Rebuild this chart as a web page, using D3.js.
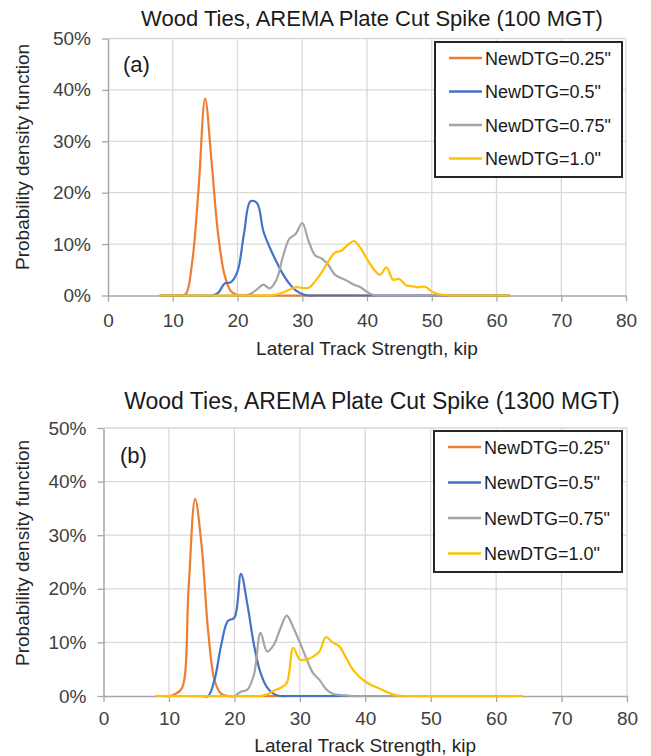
<!DOCTYPE html>
<html>
<head>
<meta charset="utf-8" />
<title>Lateral track strength PDF</title>
<script src="https://d3js.org/d3.v7.min.js"></script>
<style>
  body { margin: 0; background: #fff; }
  text { font-family: "Liberation Sans", Arial, sans-serif; }
</style>
</head>
<body>
<script>
// ---- data (values in %) ----
var xTicks = [0, 10, 20, 30, 40, 50, 60, 70, 80];
var yTicks = [0, 0.1, 0.2, 0.3, 0.4, 0.5];
var seriesNames = ['NewDTG=0.25"', 'NewDTG=0.5"', 'NewDTG=0.75"', 'NewDTG=1.0"'];
var seriesColors = ["#ED7D31", "#4472C4", "#A5A5A5", "#FFC000"];

// (a) 100 MGT
var kipA = [8, 9, 10, 11, 12, 13, 14, 15, 16, 17, 18, 19, 20, 21, 22, 23, 24, 25, 26, 27, 28, 29, 30,
            31, 32, 33, 34, 35, 36, 37, 38, 39, 40, 41, 42, 43, 44, 45, 46, 47, 48, 49, 50, 51, 52,
            53, 54, 55, 56, 57, 58, 59, 60, 61, 62];
var orangeA = [0, 0, 0, 0, 0.3, 6.5, 21, 38.3, 26, 12, 4, 0.8, 0.1, 0, 0, 0, 0, 0, 0, 0, 0, 0, 0,
               0, 0, 0, 0, 0, 0, 0, 0, 0, 0, 0, 0, 0, 0, 0, 0, 0, 0, 0, 0, 0, 0,
               0, 0, 0, 0, 0, 0, 0, 0, 0, 0];
var blueA = [0, 0, 0, 0, 0, 0, 0, 0, 0, 0.5, 2.3, 2.6, 4.7, 12, 18.3, 18, 12.5, 9.3, 6.6, 4.2, 2.3, 1.0, 0.3,
             0, 0, 0, 0, 0, 0, 0, 0, 0, 0, 0, 0, 0, 0, 0, 0, 0, 0, 0, 0, 0, 0,
             0, 0, 0, 0, 0, 0, 0, 0, 0, 0];
var grayA = [0, 0, 0, 0, 0, 0, 0, 0, 0, 0, 0, 0, 0, 0, 0.3, 1.2, 2.1, 1.4, 3, 7.5, 11, 12, 14.1,
             10.5, 7.8, 7.2, 6, 4.1, 3.4, 2.8, 2.1, 1.6, 0.7, 0.1, 0, 0, 0, 0, 0, 0, 0, 0, 0, 0, 0,
             0, 0, 0, 0, 0, 0, 0, 0, 0, 0];
var yellowA = [0, 0, 0, 0, 0, 0, 0, 0, 0, 0, 0, 0, 0, 0, 0, 0, 0, 0, 0.2, 0.6, 1.1, 1.6, 1.5,
               1.5, 2.8, 4.5, 6.6, 8.3, 8.7, 9.8, 10.6, 9.2, 7.1, 5.2, 4.0, 5.5, 3.1, 3.2, 2.0, 1.8, 1.6, 1.7, 0.8, 0.3, 0.1,
               0, 0, 0, 0, 0, 0, 0, 0, 0, 0];

// (b) 1300 MGT
var kipB = [8, 9, 10, 11, 12, 13, 14, 15, 16, 17, 18, 19, 20, 21, 22, 23, 24, 25, 26, 27, 28, 29, 30,
            31, 32, 33, 34, 35, 36, 37, 38, 39, 40, 41, 42, 43, 44, 45, 46, 47, 48, 49, 50, 51, 52,
            53, 54, 55, 56, 57, 58, 59, 60, 61, 62, 63, 64];
var orangeB = [0, 0, 0, 0.4, 1.5, 20, 36.8, 28, 12, 2.8, 0.4, 0, 0, 0, 0, 0, 0, 0, 0, 0, 0, 0, 0,
               0, 0, 0, 0, 0, 0, 0, 0, 0, 0, 0, 0, 0, 0, 0, 0, 0, 0, 0, 0, 0, 0,
               0, 0, 0, 0, 0, 0, 0, 0, 0, 0, 0, 0];
var blueB = [0, 0, 0, 0, 0, 0, 0, 0, 0, 3.2, 9.6, 14, 14.6, 22.8, 17, 9.5, 4.3, 1.6, 0.4, 0, 0, 0, 0,
             0, 0, 0, 0, 0, 0, 0, 0, 0, 0, 0, 0, 0, 0, 0, 0, 0, 0, 0, 0, 0, 0,
             0, 0, 0, 0, 0, 0, 0, 0, 0, 0, 0, 0];
var grayB = [0, 0, 0, 0, 0, 0, 0, 0, 0, 0, 0, 0, 0, 0.8, 1.2, 4, 11.8, 8.3, 9.5, 12.5, 15, 12.8, 10,
             7, 4.3, 3, 1.3, 0.4, 0.2, 0.1, 0, 0, 0, 0, 0, 0, 0, 0, 0, 0, 0, 0, 0, 0, 0,
             0, 0, 0, 0, 0, 0, 0, 0, 0, 0, 0, 0];
var yellowB = [0, 0, 0, 0, 0, 0, 0, 0, 0, 0, 0, 0, 0, 0, 0, 0, 0, 0.3, 1, 1.5, 2.4, 9, 6.8,
               6.8, 7.3, 8.3, 11, 10, 9.3, 7.3, 5.1, 3.7, 2.7, 2.0, 1.5, 0.9, 0.4, 0.1, 0, 0, 0, 0, 0, 0, 0,
               0, 0, 0, 0, 0, 0, 0, 0, 0, 0, 0, 0];

// ---- layout ----
var W = 651, H = 756;
var charts = [
  { tag: "(a)", title: "Wood Ties, AREMA Plate Cut Spike (100 MGT)", kip: kipA,
    series: [orangeA, blueA, grayA, yellowA],
    left: 108, right: 626, top: 38.5, bottom: 295.5,
    titleY: 26, titleSize: 22, tagY: 72, tagX: 123, xPad: 12, xTitleY: 355, yTitleY: 157,
    legend: { x: 435, y: 42, w: 187, h: 135, row0: 58, gap: 33.5 } },
  { tag: "(b)", title: "Wood Ties, AREMA Plate Cut Spike (1300 MGT)", kip: kipB,
    series: [orangeB, blueB, grayB, yellowB],
    left: 103.5, right: 627, top: 428, bottom: 696,
    titleY: 409, titleSize: 23, tagY: 463, tagX: 120, xPad: 10, xTitleY: 752, yTitleY: 553,
    legend: { x: 434, y: 431, w: 188, h: 141, row0: 447, gap: 35.5 } }
];

var svg = d3.select("body").append("svg")
  .attr("width", W).attr("height", H);

charts.forEach(function (c) {
  var x = d3.scaleLinear().domain([0, 80]).range([c.left, c.right]);
  var y = d3.scaleLinear().domain([0, 0.5]).range([c.bottom, c.top]);
  var g = svg.append("g");

  // gridlines
  g.append("g").selectAll("line").data(yTicks.slice(1)).join("line")
    .attr("x1", c.left).attr("x2", c.right)
    .attr("y1", d => y(d)).attr("y2", d => y(d))
    .attr("stroke", "#d9d9d9").attr("stroke-width", 1.3);
  g.append("g").selectAll("line").data(xTicks.slice(1)).join("line")
    .attr("x1", d => x(d)).attr("x2", d => x(d))
    .attr("y1", c.top).attr("y2", c.bottom)
    .attr("stroke", "#d9d9d9").attr("stroke-width", 1.3);

  // axes
  var ax = g.append("g").attr("transform", "translate(0," + c.bottom + ")")
    .call(d3.axisBottom(x).tickValues(xTicks).tickSize(6).tickSizeOuter(0)
      .tickPadding(c.xPad).tickFormat(d3.format("d")));
  var ay = g.append("g").attr("transform", "translate(" + c.left + ",0)")
    .call(d3.axisLeft(y).tickValues(yTicks).tickSize(6).tickSizeOuter(0)
      .tickPadding(11).tickFormat(d3.format(".0%")));
  [ax, ay].forEach(function (a) {
    a.select(".domain").attr("stroke", "#a6a6a6").attr("stroke-width", 1.5);
    a.selectAll(".tick line").attr("stroke", "#a6a6a6").attr("stroke-width", 1.3);
    a.selectAll(".tick text").attr("fill", "#404040")
      .style("font-size", "19px");
  });

  // series
  var line = d3.line()
    .x((d, i) => x(c.kip[i]))
    .y(d => y(d / 100))
    .curve(d3.curveCatmullRom.alpha(0.5));
  g.append("g").selectAll("path").data(c.series).join("path")
    .attr("d", line)
    .attr("fill", "none")
    .attr("stroke", (d, i) => seriesColors[i])
    .attr("stroke-width", 2.2)
    .attr("stroke-linejoin", "round");

  // titles
  g.append("text").attr("x", 372).attr("y", c.titleY)
    .attr("text-anchor", "middle").attr("fill", "#1a1a1a")
    .style("font-size", c.titleSize + "px").text(c.title);
  g.append("text").attr("x", c.tagX).attr("y", c.tagY)
    .attr("fill", "#1a1a1a").style("font-size", "22px").text(c.tag);
  g.append("text").attr("x", (c.left + c.right) / 2).attr("y", c.xTitleY)
    .attr("text-anchor", "middle").attr("fill", "#262626")
    .style("font-size", "19px").text("Lateral Track Strength, kip");
  g.append("text")
    .attr("transform", "translate(29," + c.yTitleY + ") rotate(-90)")
    .attr("text-anchor", "middle").attr("fill", "#262626")
    .style("font-size", "19px").text("Probability density function");

  // legend
  var L = c.legend;
  var lg = g.append("g");
  lg.append("rect").attr("x", L.x).attr("y", L.y).attr("width", L.w).attr("height", L.h)
    .attr("fill", "#fff").attr("stroke", "#262626").attr("stroke-width", 2);
  var rows = lg.selectAll("g.row").data(seriesNames).join("g").attr("class", "row")
    .attr("transform", (d, i) => "translate(0," + (L.row0 + i * L.gap) + ")");
  rows.append("line").attr("x1", L.x + 14).attr("x2", L.x + 47)
    .attr("stroke", (d, i) => seriesColors[i]).attr("stroke-width", 2.5);
  rows.append("text").attr("x", L.x + 50).attr("y", 6.5)
    .attr("fill", "#1a1a1a").style("font-size", "18px").text(d => d);
});
</script>
</body>
</html>
